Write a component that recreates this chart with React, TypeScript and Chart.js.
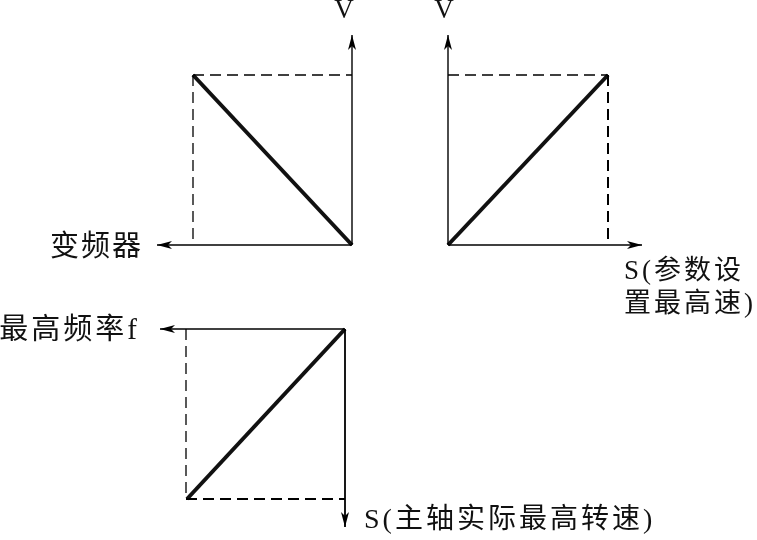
import React, { useEffect, useRef } from "react";
import { Chart, registerables } from "chart.js";

Chart.register(...registerables);

// Diagram coordinate space (x: 0..757 to the right, y: 0..540 downward)
const X_RANGE = [0, 757];
const Y_RANGE = [0, 540];

// Solid axes; arrow head drawn at the end point
const axisStartX = [352, 352, 448, 448, 345, 345];
const axisStartY = [245, 245, 245, 245, 329, 329];
const axisEndX = [352, 157, 448, 642, 345, 160];
const axisEndY = [35, 245, 35, 245, 527, 329];
const axisWidth = [1.4, 1.4, 1.4, 1.4, 1.8, 1.4];

// Dashed guide lines
const dashStartX = [193, 193, 448, 608, 186, 186];
const dashStartY = [75, 75, 75, 75, 329, 499];
const dashEndX = [352, 193, 608, 608, 186, 345];
const dashEndY = [75, 245, 75, 245, 499, 499];
const dashWidth = [1.3, 1.3, 1.3, 2, 1.3, 2];

// Characteristic (double) lines
const diagStartX = [193, 448, 187];
const diagStartY = [75, 245, 499];
const diagEndX = [352, 608, 345];
const diagEndY = [245, 75, 329];

// Text labels
const labelTexts = ["V", "V", "变频器", "S(参数设", "置最高速)", "最高频率f", "S(主轴实际最高转速)"];
const labelX = [344, 444, 143, 624, 624, 140, 364];
const labelY = [11, 11, 248, 272, 305, 331, 521];
const labelAlign = ["center", "center", "right", "left", "left", "right", "left"];
const labelSize = [27, 27, 29, 27, 27, 29, 28];
const labelSpacing = [0, 0, 2, 3, 3, 3, 3];

const seg = (x1: number, y1: number, x2: number, y2: number) => [
  { x: x1, y: y1 },
  { x: x2, y: y2 },
];

const arrowPlugin = {
  id: "arrowsAndLabels",
  afterDatasetsDraw(chart: any) {
    const { ctx, scales } = chart;
    const xs = scales.x;
    const ys = scales.y;
    ctx.save();
    ctx.fillStyle = "#000";
    for (let i = 0; i < axisEndX.length; i++) {
      const sx = xs.getPixelForValue(axisStartX[i]);
      const sy = ys.getPixelForValue(axisStartY[i]);
      const ex = xs.getPixelForValue(axisEndX[i]);
      const ey = ys.getPixelForValue(axisEndY[i]);
      const ang = Math.atan2(ey - sy, ex - sx);
      const len = 15;
      const half = 4;
      const notch = 11;
      ctx.save();
      ctx.translate(ex, ey);
      ctx.rotate(ang);
      ctx.beginPath();
      ctx.moveTo(0, 0);
      ctx.lineTo(-len, -half);
      ctx.lineTo(-notch, 0);
      ctx.lineTo(-len, half);
      ctx.closePath();
      ctx.fill();
      ctx.restore();
    }
    ctx.fillStyle = "#111";
    ctx.textBaseline = "middle";
    for (let i = 0; i < labelTexts.length; i++) {
      ctx.font = `${labelSize[i]}px "Liberation Serif", "Noto Sans CJK SC", serif`;
      (ctx as any).letterSpacing = `${labelSpacing[i]}px`;
      ctx.textAlign = labelAlign[i];
      ctx.fillText(labelTexts[i], xs.getPixelForValue(labelX[i]), ys.getPixelForValue(labelY[i]));
    }
    (ctx as any).letterSpacing = "0px";
    ctx.restore();
  },
};

export default function App() {
  const ref = useRef<HTMLCanvasElement>(null);

  useEffect(() => {
    document.body.style.margin = "0";
    const canvas = ref.current;
    if (!canvas) return;

    const datasets: any[] = [];
    for (let i = 0; i < axisStartX.length; i++) {
      datasets.push({
        data: seg(axisStartX[i], axisStartY[i], axisEndX[i], axisEndY[i]),
        borderColor: "#000",
        borderWidth: axisWidth[i],
        showLine: true,
        pointRadius: 0,
      });
    }
    for (let i = 0; i < dashStartX.length; i++) {
      datasets.push({
        data: seg(dashStartX[i], dashStartY[i], dashEndX[i], dashEndY[i]),
        borderColor: "#000",
        borderWidth: dashWidth[i],
        borderDash: [11, 6],
        showLine: true,
        pointRadius: 0,
      });
    }
    for (let i = 0; i < diagStartX.length; i++) {
      datasets.push({
        data: seg(diagStartX[i], diagStartY[i], diagEndX[i], diagEndY[i]),
        borderColor: "#111",
        borderWidth: 4,
        showLine: true,
        pointRadius: 0,
      });
      datasets.push({
        data: seg(diagStartX[i], diagStartY[i], diagEndX[i], diagEndY[i]),
        borderColor: "rgba(255,255,255,0.8)",
        borderWidth: 1.2,
        showLine: true,
        pointRadius: 0,
      });
    }

    const chart = new Chart(canvas, {
      type: "scatter",
      data: { datasets },
      options: {
        animation: false,
        responsive: false,
        devicePixelRatio: 1,
        layout: { padding: 0 },
        plugins: { legend: { display: false }, tooltip: { enabled: false } },
        scales: {
          x: { type: "linear", min: X_RANGE[0], max: X_RANGE[1], display: false },
          y: { type: "linear", min: Y_RANGE[0], max: Y_RANGE[1], reverse: true, display: false },
        },
      } as any,
      plugins: [arrowPlugin as any],
    });
    return () => chart.destroy();
  }, []);

  return (
    <div style={{ width: 757, height: 540, background: "#fff" }}>
      <canvas ref={ref} width={757} height={540} style={{ display: "block", width: 757, height: 540 }} />
    </div>
  );
}
